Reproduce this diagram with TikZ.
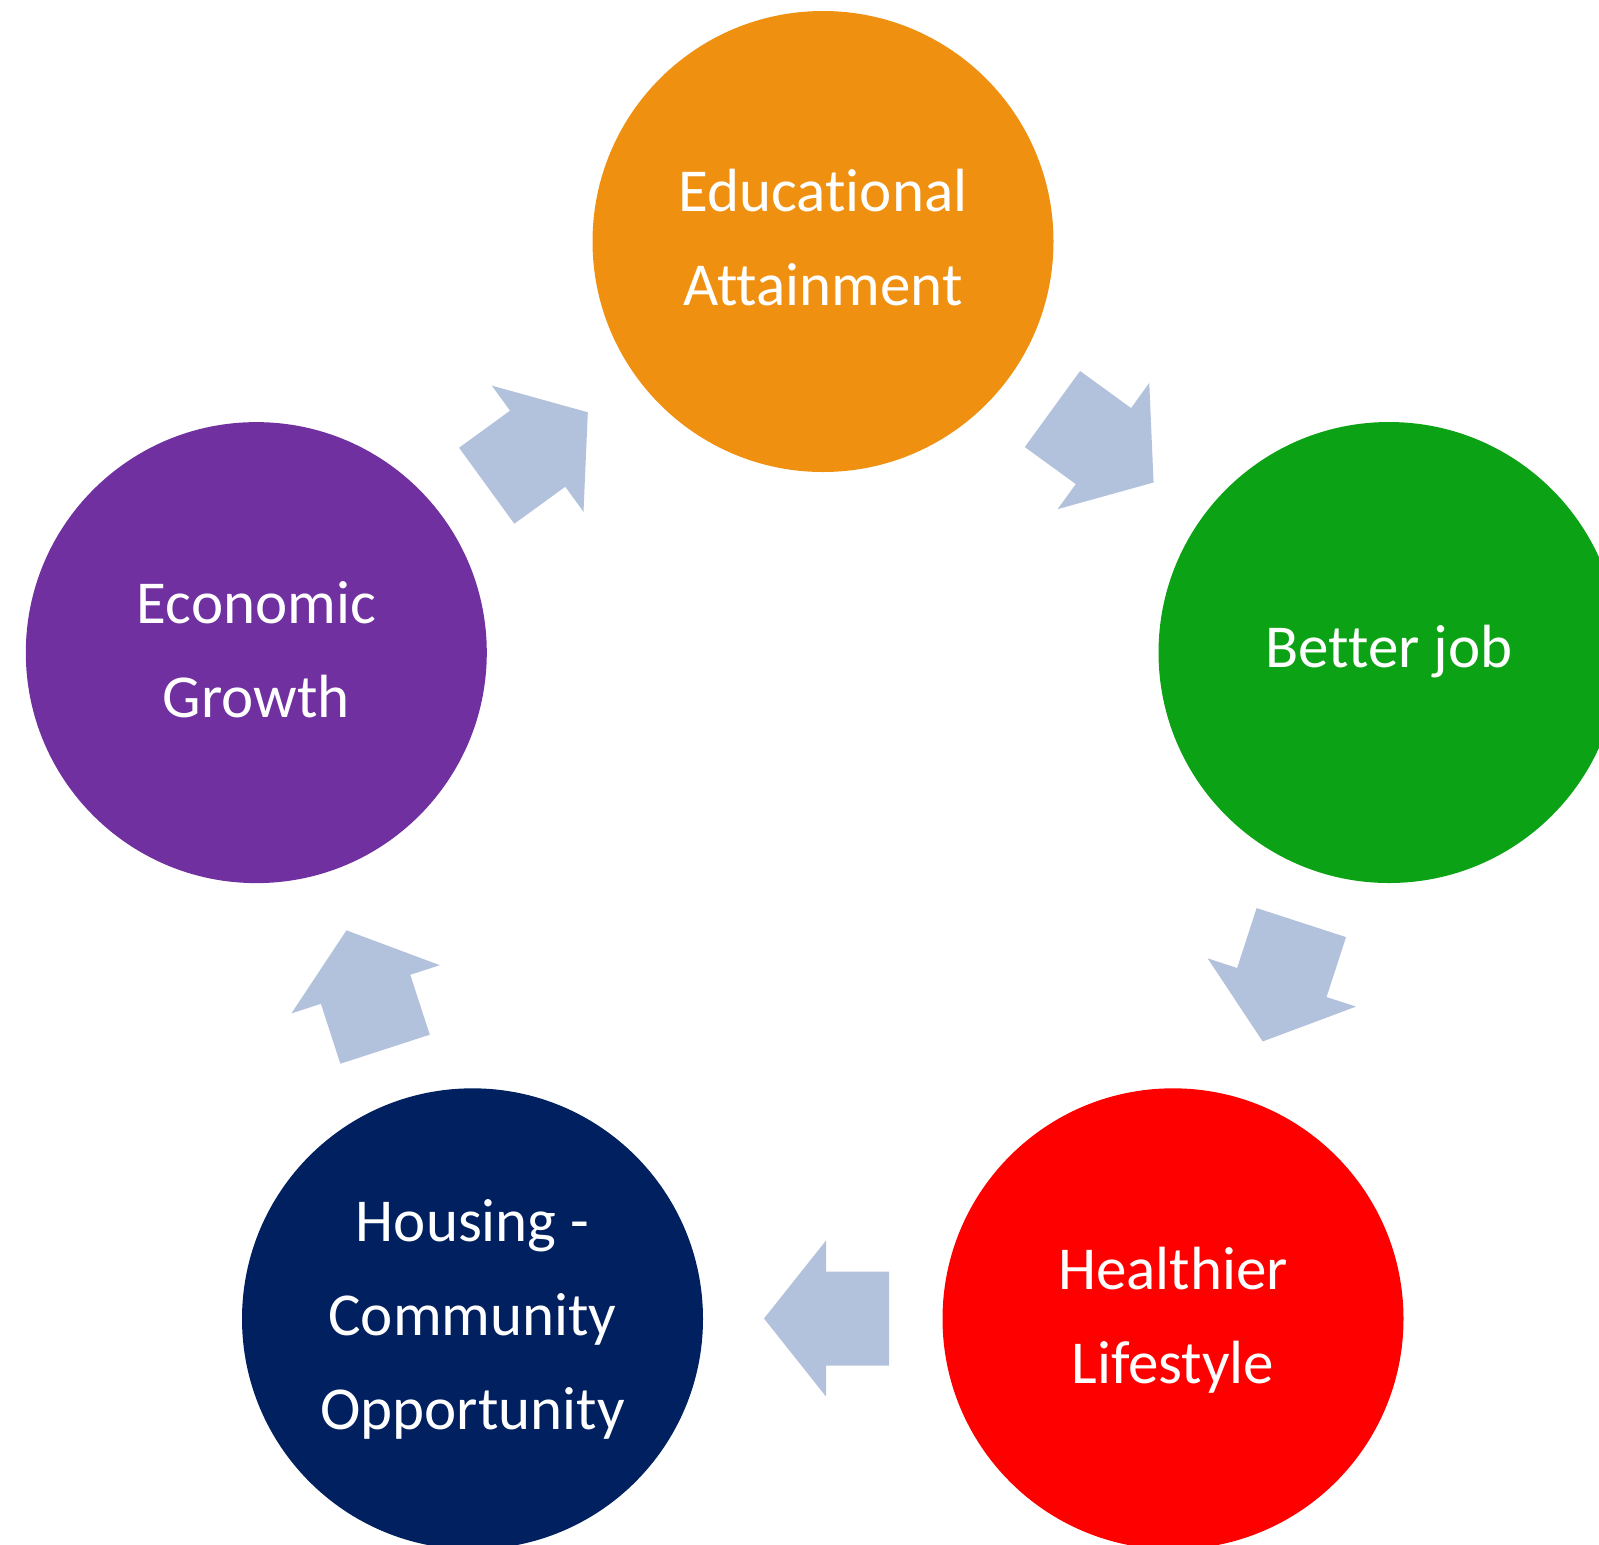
\documentclass[tikz,border=0pt]{standalone}
\usepackage{fontspec}
\setmainfont{Carlito}[Ligatures={NoCommon}]
\definecolor{cOrange}{RGB}{240,144,17}
\definecolor{cGreen}{RGB}{12,162,21}
\definecolor{cRed}{RGB}{254,0,0}
\definecolor{cNavy}{RGB}{0,32,96}
\definecolor{cPurple}{RGB}{112,48,160}
\definecolor{cArrow}{RGB}{179,194,220}
\tikzset{
  bubble/.style={circle, inner sep=0pt, minimum size=230.5pt, fill=#1, draw=none},
  lbl/.style={text=white, align=center, anchor=base, inner sep=0pt,
    font=\fontsize{30.5pt}{47pt}\selectfont},
  pics/cyclearrow/.style={code={
    \fill[cArrow] (-62.5,-47) -- (0.5,-47) -- (0.5,-78) -- (62.5,0)
      -- (0.5,78) -- (0.5,47) -- (-62.5,47) -- cycle;
  }}
}
\begin{document}
\begin{tikzpicture}[x=0.5pt,y=-0.5pt]
\useasboundingbox (0,0) rectangle (1599,1544);
\clip (0,0) rectangle (1599,1544);
\coordinate (O) at (823,836);
% circles
\node[bubble=cOrange] (edu) at (823,241.5) {};
\node[bubble=cGreen] (job) at (1389,652.5) {};
\node[bubble=cRed] (health) at (1173,1318.8) {};
\node[bubble=cNavy] (house) at (472.5,1318.8) {};
\node[bubble=cPurple] (econ) at (256.3,652.6) {};
% labels (anchor base = baseline of last line)
\node[lbl] (t-edu) at (823,305) {Educational\\Attainment};
\node[lbl] (t-job) at (1389,667) {Better job};
\node[lbl] (t-health) at (1173,1383) {Healthier\\Lifestyle};
\node[lbl] (t-house) at (472.5,1429) {Housing -\\Community\\Opportunity};
\node[lbl] (t-econ) at (256.3,717.5) {Economic\\Growth};
% cycle arrows
\pic[rotate=-36] (a1) at (1103,445.75) {cyclearrow};
\pic[rotate=-108] (a2) at (1282,982) {cyclearrow};
\pic[rotate=180] (a3) at (826.5,1318.5) {cyclearrow};
\pic[rotate=108] (a4) at (365.75,989.75) {cyclearrow};
\pic[rotate=36] (a5) at (537.25,449) {cyclearrow};
\end{tikzpicture}
\end{document}
